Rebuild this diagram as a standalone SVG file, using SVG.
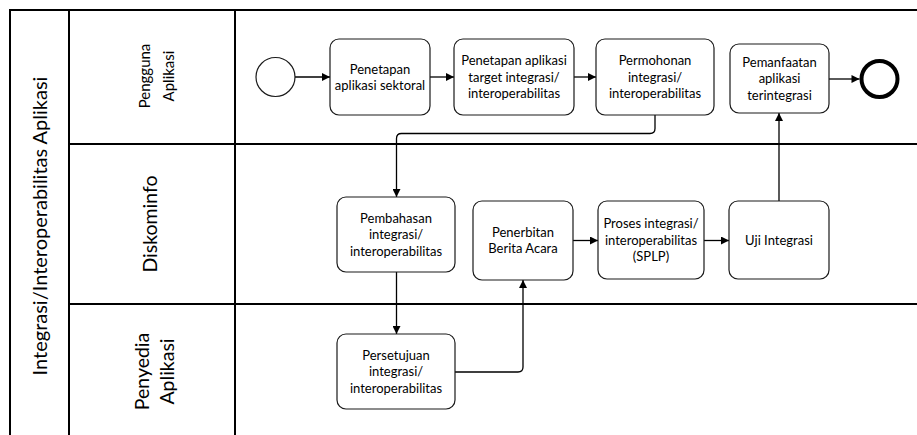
<svg xmlns="http://www.w3.org/2000/svg" width="917" height="435" viewBox="0 0 917 435">
  <style>
    .frame { fill: none; stroke: #000; stroke-width: 2; }
    .task { fill: #fff; stroke: #1a1a1a; stroke-width: 1.2; }
    .txt { font-family: Lato, "Open Sans", "Liberation Sans", sans-serif; fill: #000; text-anchor: middle; }
    .t { font-size: 13px; }
    .flow { fill: none; stroke: #000; stroke-width: 1.3; marker-end: url(#arrow); }
  </style>
  <defs>
    <marker id="arrow" viewBox="0 0 10 10" refX="10" refY="5" markerUnits="userSpaceOnUse" markerWidth="9" markerHeight="8" orient="auto">
      <path d="M0,0 L10,5 L0,10 z" fill="#000"/>
    </marker>
  </defs>

  <rect width="917" height="435" fill="#fff"/>

  <!-- pool and lanes -->
  <g id="pool">
    <path class="frame" d="M10,435 V10 H917 M69,10 V435 M235,10 V435 M69,144 H917 M69,304 H917"/>
    <text class="txt" font-size="20" transform="translate(47,226) rotate(-90)">Integrasi/Interoperabilitas Aplikasi</text>
  </g>
  <g id="lane-pengguna">
    <text class="txt" font-size="15" transform="translate(150,76) rotate(-90)">Pengguna</text>
    <text class="txt" font-size="15" transform="translate(174,76) rotate(-90)">Aplikasi</text>
  </g>
  <g id="lane-diskominfo">
    <text class="txt" font-size="19.5" transform="translate(157,224) rotate(-90)">Diskominfo</text>
  </g>
  <g id="lane-penyedia">
    <text class="txt" font-size="19.5" transform="translate(149,371.5) rotate(-90)">Penyedia</text>
    <text class="txt" font-size="19.5" transform="translate(174,371.5) rotate(-90)">Aplikasi</text>
  </g>

  <!-- connectors -->
  <g id="connectors">
    <path class="flow" d="M295,77 H330"/>
    <path class="flow" d="M430,77 H454"/>
    <path class="flow" d="M574,77 H596"/>
    <path class="flow" d="M829,79 H859.5"/>
    <path class="flow" d="M655,115 V128.5 Q655,133.5 650,133.5 H401.5 Q396.5,133.5 396.5,138.5 V197"/>
    <path class="flow" d="M396.5,272 V334"/>
    <path class="flow" d="M455,372 H518 Q523,372 523,367 V280"/>
    <path class="flow" d="M573,240.5 H598"/>
    <path class="flow" d="M704,240.5 H729"/>
    <path class="flow" d="M779,201 V113"/>
  </g>

  <!-- events -->
  <g id="start">
    <circle cx="275.5" cy="77" r="19.5" fill="#fff" stroke="#1a1a1a" stroke-width="1.2"/>
  </g>
  <g id="end">
    <circle cx="879.5" cy="79" r="18" fill="#fff" stroke="#000" stroke-width="4"/>
  </g>

  <!-- tasks -->
  <g id="penetapan-sektoral">
    <rect class="task" x="330" y="39" width="100" height="76" rx="9"/>
    <text class="txt t" x="380" y="73.5">Penetapan</text>
    <text class="txt t" x="380" y="90">aplikasi sektoral</text>
  </g>
  <g id="penetapan-target">
    <rect class="task" x="454" y="39" width="120" height="76" rx="9"/>
    <text class="txt t" x="514" y="65">Penetapan aplikasi</text>
    <text class="txt t" x="514" y="81.5">target integrasi/</text>
    <text class="txt t" x="514" y="98">interoperabilitas</text>
  </g>
  <g id="permohonan">
    <rect class="task" x="596" y="39" width="118" height="76" rx="9"/>
    <text class="txt t" x="655" y="65">Permohonan</text>
    <text class="txt t" x="655" y="81.5">integrasi/</text>
    <text class="txt t" x="655" y="98">interoperabilitas</text>
  </g>
  <g id="pemanfaatan">
    <rect class="task" x="730" y="44" width="99" height="69" rx="9"/>
    <text class="txt t" x="779.5" y="66.5">Pemanfaatan</text>
    <text class="txt t" x="779.5" y="83">aplikasi</text>
    <text class="txt t" x="779.5" y="99.5">terintegrasi</text>
  </g>
  <g id="pembahasan">
    <rect class="task" x="337" y="197" width="118" height="75" rx="9"/>
    <text class="txt t" x="396" y="222.5">Pembahasan</text>
    <text class="txt t" x="396" y="239">integrasi/</text>
    <text class="txt t" x="396" y="255.5">interoperabilitas</text>
  </g>
  <g id="penerbitan">
    <rect class="task" x="473" y="201" width="100" height="79" rx="9"/>
    <text class="txt t" x="523" y="236.5">Penerbitan</text>
    <text class="txt t" x="523" y="253">Berita Acara</text>
  </g>
  <g id="proses">
    <rect class="task" x="598" y="201" width="106" height="78" rx="9"/>
    <text class="txt t" x="651" y="228">Proses integrasi/</text>
    <text class="txt t" x="651" y="244.5">interoperabilitas</text>
    <text class="txt t" x="651" y="261">(SPLP)</text>
  </g>
  <g id="uji">
    <rect class="task" x="729" y="201" width="100" height="78" rx="9"/>
    <text class="txt t" x="779" y="244.5">Uji Integrasi</text>
  </g>
  <g id="persetujuan">
    <rect class="task" x="337" y="334" width="118" height="75" rx="9"/>
    <text class="txt t" x="396" y="359.5">Persetujuan</text>
    <text class="txt t" x="396" y="376">integrasi/</text>
    <text class="txt t" x="396" y="392.5">interoperabilitas</text>
  </g>
</svg>
